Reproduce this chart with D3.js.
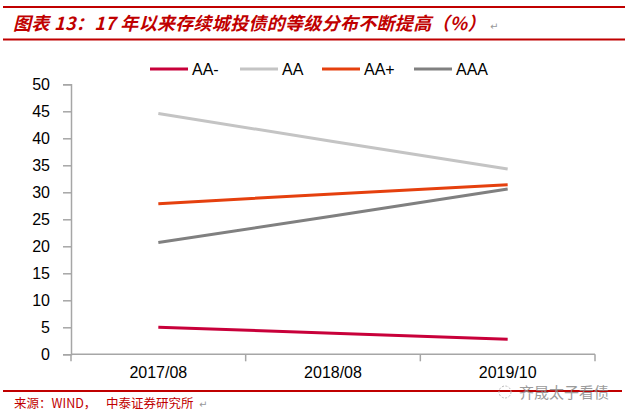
<!DOCTYPE html>
<html><head><meta charset="utf-8">
<script src="https://cdn.jsdelivr.net/npm/d3@7/dist/d3.min.js"></script>
<style>body{margin:0;background:#fff}svg{display:block}</style>
</head><body>
<script>
const categories = ["2017/08", "2018/08", "2019/10"];
const seriesNames = ["AA-", "AA", "AA+", "AAA"];
const valuesAAminus = [5.0, 3.9, 2.8];
const valuesAA = [44.6, 39.4, 34.3];
const valuesAAplus = [27.9, 29.7, 31.4];
const valuesAAA = [20.7, 25.6, 30.6];
const yTicks = [0, 5, 10, 15, 20, 25, 30, 35, 40, 45, 50];
const seriesColors = ["#C8003A", "#C4C4C4", "#E5400E", "#808080"];

const series = [valuesAAminus, valuesAA, valuesAAplus, valuesAAA].map((v, i) => ({name: seriesNames[i], values: v, color: seriesColors[i]}));

const W = 628, H = 420;
const svg = d3.select("body").append("svg").attr("width", W).attr("height", H);
const red = "#C00000";

// frame lines
svg.append("line").attr("x1", 3).attr("x2", 625).attr("y1", 7).attr("y2", 7).attr("stroke", red).attr("stroke-width", 2);
svg.append("line").attr("x1", 3).attr("x2", 625).attr("y1", 39.5).attr("y2", 39.5).attr("stroke", red).attr("stroke-width", 2);
svg.append("line").attr("x1", 3).attr("x2", 622).attr("y1", 391).attr("y2", 391).attr("stroke", red).attr("stroke-width", 2);

svg.append("text").attr("x", 13).attr("y", 30)
  .attr("font-family", "'Noto Sans CJK SC', sans-serif").attr("font-size", 18)
  .attr("font-weight", "bold").attr("font-style", "italic").attr("fill", red)
  .attr("letter-spacing", 0.3)
  .text("图表 13：17 年以来存续城投债的等级分布不断提高（%）");
svg.append("text").attr("x", 490).attr("y", 30).attr("font-size", 10).attr("fill", "#999")
  .attr("font-family", "'DejaVu Sans'").text("↵");

// footer
const ff = "'Noto Sans CJK SC', sans-serif";
svg.append("text").attr("x", 14).attr("y", 408).attr("font-family", ff).attr("font-size", 12.5).attr("fill", red).text("来源：WIND，");
svg.append("text").attr("x", 106).attr("y", 408).attr("font-family", ff).attr("font-size", 12.5).attr("fill", red).text("中泰证券研究所");
svg.append("text").attr("x", 199).attr("y", 408).attr("font-size", 10).attr("fill", "#999").attr("font-family", "'DejaVu Sans'").text("↵");
svg.append("text").attr("x", 519).attr("y", 398).attr("font-family", ff).attr("font-size", 15).attr("fill", "#8a8a8a").attr("opacity", 0.85).text("齐晟太子看债");
svg.append("circle").attr("cx", 505).attr("cy", 392).attr("r", 6).attr("fill", "none").attr("stroke", "#bbb").attr("stroke-dasharray", "2,1.5");

// plot
const x0 = 71, x1 = 595, yTop = 84.3, yBot = 354.3;
const x = d3.scaleBand().domain(categories).range([x0, x1]).paddingInner(0).paddingOuter(0);
const y = d3.scaleLinear().domain([0, 50]).range([yBot, yTop]);

const axisColor = "#A6A6A6";
const yAxis = svg.append("g").attr("transform", `translate(${x0},0)`)
  .call(d3.axisLeft(y).tickValues(yTicks).tickSize(8).tickPadding(13));
const xAxis = svg.append("g").attr("transform", `translate(0,${yBot})`)
  .call(d3.axisBottom(x).tickSize(0).tickPadding(12));
// x ticks at band boundaries
const bounds = categories.map(c => x(c)).concat([x1]);
svg.append("g").selectAll("line").data(bounds).join("line")
  .attr("x1", d => d).attr("x2", d => d).attr("y1", yBot).attr("y2", yBot + 7)
  .attr("stroke", axisColor).attr("stroke-width", 1.5);

[yAxis, xAxis].forEach(g => {
  g.select(".domain").attr("stroke", axisColor).attr("stroke-width", 1.5);
  g.selectAll(".tick line").attr("stroke", axisColor).attr("stroke-width", 1.5);
  g.selectAll(".tick text").attr("font-family", "'Liberation Sans', Arial, sans-serif").attr("font-size", 16).attr("fill", "#000");
});
xAxis.select(".domain").attr("d", `M${x0},0H${x1}`);

const line = d3.line().x((d, i) => x(categories[i]) + x.bandwidth() / 2).y(d => y(d));
svg.append("g").selectAll("path").data(series).join("path")
  .attr("d", d => line(d.values)).attr("fill", "none")
  .attr("stroke", d => d.color).attr("stroke-width", 3);

// legend
const legX = [150, 240, 322, 414];
const leg = svg.append("g").selectAll("g").data(series).join("g")
  .attr("transform", (d, i) => `translate(${legX[i]},69)`);
leg.append("line").attr("x1", 0).attr("x2", 38).attr("stroke", d => d.color).attr("stroke-width", 3);
leg.append("text").attr("x", 42).attr("y", 6).attr("font-family", "'Liberation Sans', Arial, sans-serif")
  .attr("font-size", 16).attr("fill", "#000").text(d => d.name);
</script>
</body></html>
